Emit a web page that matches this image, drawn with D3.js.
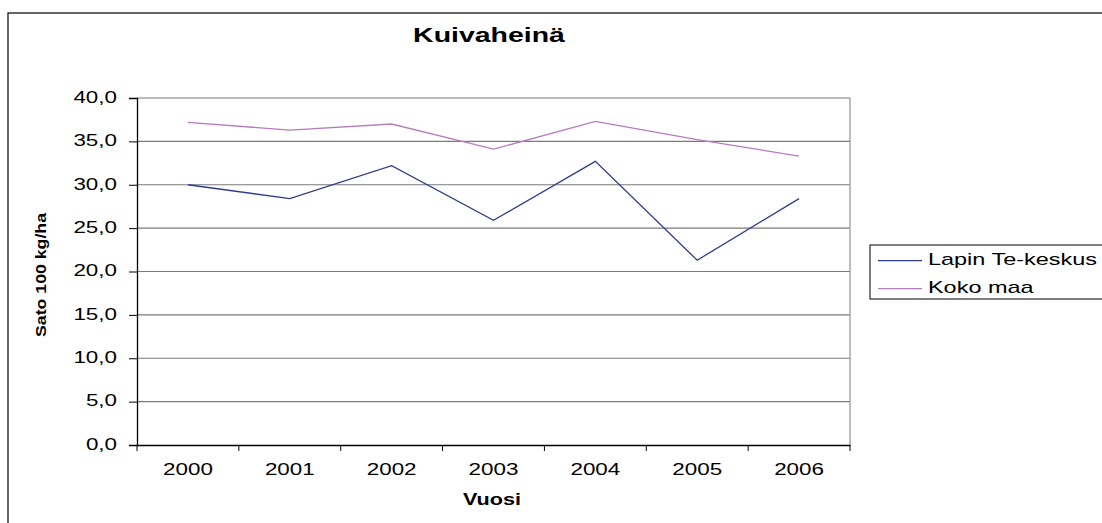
<!DOCTYPE html>
<html><head><meta charset="utf-8">
<script src="https://cdn.jsdelivr.net/npm/d3@7"></script>
<style>body{margin:0;background:#fff}svg{display:block}text{font-family:"Liberation Sans",Arial,sans-serif;fill:#000}</style>
</head><body><svg id="c" width="1102" height="523"></svg>
<script>
const years = ["2000","2001","2002","2003","2004","2005","2006"];
const lapin = [30.0, 28.4, 32.2, 25.9, 32.7, 21.3, 28.4];
const kokoMaa = [37.2, 36.3, 37.0, 34.1, 37.3, 35.2, 33.3];
const yTicks = [0,5,10,15,20,25,30,35,40];
const seriesNames = ["Lapin Te-keskus","Koko maa"];
const colors = ["#2e3c8e","#b77cbf"];

function stretch(sel,f){
  sel.each(function(){
    const x = +this.getAttribute("x") || 0;
    this.setAttribute("transform",`translate(${x*(1-f)},0) scale(${f},1)`);
  });
}

const svg = d3.select("#c");
svg.append("rect").attr("x",8).attr("y",13).attr("width",1100).attr("height",520)
  .attr("fill","none").attr("stroke","#000").attr("stroke-width",1.2);

const L=137,R=850,T=98,B=445;
const x = d3.scaleBand().domain(years).range([L,R]);
const y = d3.scaleLinear().domain([0,40]).range([B,T]);
const fmt = d=>d3.format(".1f")(d).replace(".",",");

// grid
svg.append("g").selectAll("line").data(yTicks.filter(d=>d>0)).join("line")
  .attr("x1",L).attr("x2",R).attr("y1",d=>y(d)).attr("y2",d=>y(d))
  .attr("stroke","#7a7a7a").attr("stroke-width",1.2);
svg.append("line").attr("x1",R).attr("x2",R).attr("y1",T).attr("y2",B)
  .attr("stroke","#999").attr("stroke-width",1.3);

// y axis
const ya = svg.append("g").attr("transform",`translate(${L},0)`)
  .call(d3.axisLeft(y).tickValues(yTicks).tickFormat(fmt).tickSize(8).tickPadding(12));
ya.select(".domain").attr("stroke","#000").attr("stroke-width",1.3);
ya.selectAll(".tick line").attr("stroke","#000");
ya.selectAll("text").attr("font-size",16).attr("fill","#000").attr("font-family","Liberation Sans, Arial").attr("dy","0.27em");
stretch(ya.selectAll("text"),1.4);

// x axis
const xa = svg.append("g").attr("transform",`translate(0,${B})`)
  .call(d3.axisBottom(x).tickSize(0).tickPadding(18.6));
xa.select(".domain").attr("stroke","#000").attr("stroke-width",1.3);
xa.selectAll("text").attr("font-size",16).attr("fill","#000").attr("font-family","Liberation Sans, Arial");
stretch(xa.selectAll("text"),1.4);
svg.append("g").selectAll("line").data(years.concat(["end"])).join("line")
  .attr("x1",(d,i)=>L+i*x.step()).attr("x2",(d,i)=>L+i*x.step())
  .attr("y1",B).attr("y2",B+6).attr("stroke","#000");

// lines
const line = d3.line().x((d,i)=>x(years[i])+x.bandwidth()/2).y(d=>y(d));
[lapin,kokoMaa].forEach((s,k)=>{
  svg.append("path").datum(s).attr("d",line).attr("fill","none")
    .attr("stroke",colors[k]).attr("stroke-width",1.3);
});

// title & labels
const title = svg.append("text").attr("x",489).attr("y",42).attr("text-anchor","middle")
  .attr("font-size",19.5).attr("font-weight","bold").text("Kuivaheinä");
stretch(title,1.46);
const xl = svg.append("text").attr("x",492).attr("y",505).attr("text-anchor","middle")
  .attr("font-size",17).attr("font-weight","bold").text("Vuosi");
stretch(xl,1.27);
svg.append("text").attr("transform","translate(46,275) rotate(-90)").attr("text-anchor","middle")
  .attr("font-size",14).attr("font-weight","bold")
  .attr("textLength",124).attr("lengthAdjust","spacingAndGlyphs").text("Sato 100 kg/ha");

// legend
const lg = svg.append("g");
lg.append("rect").attr("x",870).attr("y",245).attr("width",240).attr("height",54)
  .attr("fill","#fff").attr("stroke","#000").attr("stroke-width",1);
seriesNames.forEach((n,i)=>{
  const yy = 260.7+i*28;
  lg.append("line").attr("x1",878).attr("x2",922).attr("y1",yy).attr("y2",yy).attr("stroke",colors[i]).attr("stroke-width",1.3);
  const t = lg.append("text").attr("x",928).attr("y",yy+4.5).attr("font-size",17).text(n);
  stretch(t,1.38);
});
</script></body></html>
